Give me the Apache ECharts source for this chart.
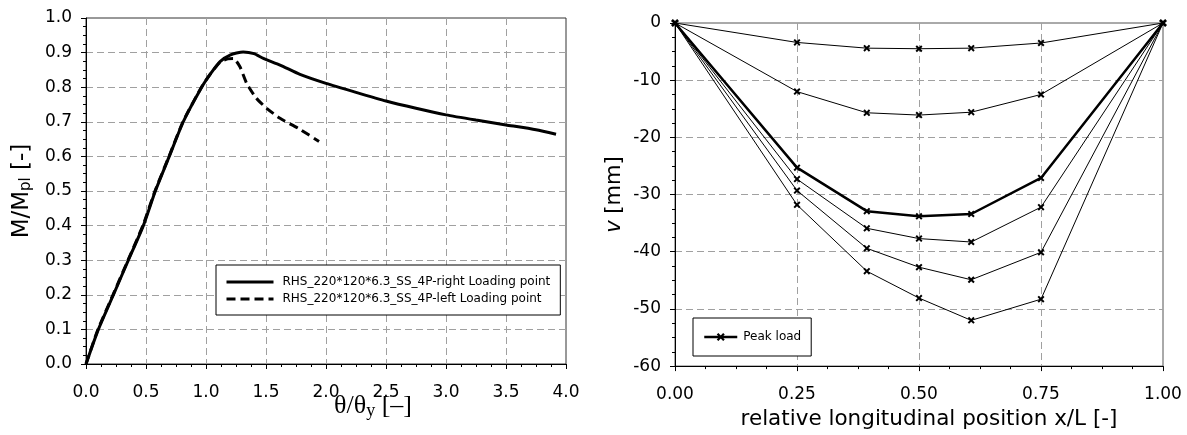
<!DOCTYPE html>
<html>
<head>
<meta charset="utf-8">
<script src="https://cdn.jsdelivr.net/npm/echarts@6/dist/echarts.min.js"></script>
<style>
html,body{margin:0;padding:0;background:#fff;}
#c{width:1187px;height:435px;}
</style>
</head>
<body>
<div id="c"></div>
<script>
// ---- Left chart data (theta/theta_y vs M/Mpl) ----
const rightLoadName = 'RHS_220*120*6.3_SS_4P-right Loading point';
const leftLoadName = 'RHS_220*120*6.3_SS_4P-left Loading point';
const rightLoadX = [0, 0.103, 0.228, 0.353, 0.478, 0.578, 0.694, 0.81, 0.964, 1.04, 1.117, 1.2, 1.31, 1.4, 1.478, 1.617, 1.783, 2.0, 2.25, 2.5, 2.75, 3.0, 3.25, 3.5, 3.75, 3.917];
const rightLoadY = [0, 0.1, 0.2, 0.3, 0.4, 0.5, 0.6, 0.7, 0.8, 0.84, 0.874, 0.893, 0.902, 0.897, 0.883, 0.864, 0.837, 0.811, 0.785, 0.760, 0.739, 0.720, 0.705, 0.691, 0.677, 0.664];
const leftLoadX = [0, 0.1, 0.225, 0.35, 0.474, 0.575, 0.692, 0.808, 0.962, 1.04, 1.117, 1.18, 1.228, 1.283, 1.339, 1.42, 1.506, 1.617, 1.77, 1.942];
const leftLoadY = [0, 0.1, 0.2, 0.3, 0.4, 0.5, 0.6, 0.7, 0.8, 0.84, 0.872, 0.882, 0.883, 0.859, 0.811, 0.768, 0.739, 0.710, 0.681, 0.643];

// ---- Right chart data (deflection v along x/L) ----
const positions = [0, 0.25, 0.393, 0.5, 0.607, 0.75, 1.0];
const defl1 = [0, -3.4, -4.4, -4.5, -4.4, -3.5, 0];
const defl2 = [0, -12.0, -15.7, -16.1, -15.6, -12.5, 0];
const deflPeak = [0, -25.3, -32.9, -33.8, -33.4, -27.1, 0];
const defl4 = [0, -27.3, -35.9, -37.7, -38.3, -32.2, 0];
const defl5 = [0, -29.3, -39.4, -42.7, -44.9, -40.1, 0];
const defl6 = [0, -31.8, -43.4, -48.1, -52.0, -48.3, 0];

const leftXTicks = [0, 0.5, 1.0, 1.5, 2.0, 2.5, 3.0, 3.5, 4.0];
const rightXTicks = [0, 0.25, 0.5, 0.75, 1.0];

function pairs(xs, ys) { return xs.map((x, i) => [x, ys[i]]); }

const FONT = 'DejaVu Sans';
const gridLine = { show: true, showMinLine: false, showMaxLine: false, lineStyle: { color: '#a0a0a0', type: [7, 4], width: 1 } };
const xMark = 'path://M0,2 L2,0 L5,3 L8,0 L10,2 L7,5 L10,8 L8,10 L5,7 L2,10 L0,8 L3,5 Z';

function axisCommon(extra) {
  return Object.assign({
    axisLine: { show: true, onZero: false, lineStyle: { color: '#000', width: 1 } },
    axisTick: { show: true, length: 5, lineStyle: { color: '#000' } },
    minorTick: { show: true, splitNumber: 4, length: 3, lineStyle: { color: '#000' } },
    splitLine: gridLine,
    axisLabel: { fontFamily: FONT, fontSize: 17, color: '#000' }
  }, extra);
}

function thinSeries(name, data) {
  return {
    type: 'line', name: name, xAxisIndex: 1, yAxisIndex: 1,
    data: pairs(positions, data),
    symbol: xMark, symbolSize: 7, showSymbol: true,
    lineStyle: { color: '#000', width: 1 },
    itemStyle: { color: '#000' },
    z: 3
  };
}

const chart = echarts.init(document.getElementById('c'), null, { renderer: 'canvas' });
chart.setOption({
  backgroundColor: '#fff',
  animation: false,
  grid: [
    { left: 86, top: 18, width: 480, height: 346, show: true, borderColor: '#333', borderWidth: 1, backgroundColor: 'transparent' },
    { left: 675, top: 23, width: 488, height: 345, show: true, borderColor: '#555', borderWidth: 1, backgroundColor: 'transparent' }
  ],
  xAxis: [
    axisCommon({
      type: 'value', gridIndex: 0, min: 0, max: 4, interval: 0.5,
      axisLabel: { fontFamily: FONT, fontSize: 17, color: '#000', margin: 20, formatter: v => v.toFixed(1) }
    }),
    axisCommon({
      type: 'value', gridIndex: 1, min: 0, max: 1, interval: 0.25,
      axisLabel: { fontFamily: FONT, fontSize: 17, color: '#000', margin: 20, formatter: v => v.toFixed(2) },
      name: 'relative longitudinal position x/L [-]', nameLocation: 'middle', nameGap: 40,
      nameTextStyle: { fontFamily: FONT, fontSize: 21.5, color: '#000', padding: [0, 0, 0, 20] }
    })
  ],
  yAxis: [
    axisCommon({
      type: 'value', gridIndex: 0, min: 0, max: 1, interval: 0.1,
      axisLabel: { fontFamily: FONT, fontSize: 17, color: '#000', margin: 14, formatter: v => v.toFixed(1) },
      name: '{a|M/M}{s|pl}{a| [-]}', nameLocation: 'middle', nameGap: 52, nameRotate: 90,
      nameTextStyle: {
        rich: {
          a: { fontFamily: FONT, fontSize: 23, color: '#000' },
          s: { fontFamily: FONT, fontSize: 15, color: '#000', verticalAlign: 'bottom', padding: [9, 0, 0, 0] }
        }
      }
    }),
    axisCommon({
      type: 'value', gridIndex: 1, min: -60, max: 0, interval: 10,
      axisLabel: { fontFamily: FONT, fontSize: 17, color: '#000', margin: 14 },
      name: '{i|v}{a| [mm]}', nameLocation: 'middle', nameGap: 50, nameRotate: 90,
      nameTextStyle: {
        rich: {
          i: { fontFamily: FONT, fontSize: 21, fontStyle: 'italic', color: '#000' },
          a: { fontFamily: FONT, fontSize: 21, color: '#000' }
        }
      }
    })
  ],
  legend: [
    {
      data: [rightLoadName, leftLoadName],
      orient: 'vertical', left: 216, top: 265,
      padding: [11, 10, 10, 9],
      borderColor: '#000', borderWidth: 1, backgroundColor: '#fff',
      itemWidth: 47, itemHeight: 14, itemGap: 5,
      itemStyle: { opacity: 0 },
      lineStyle: { width: 3 },
      textStyle: { fontFamily: FONT, fontSize: 12, color: '#000', padding: [0, 0, 0, 4] }
    },
    {
      data: ['Peak load'],
      orient: 'vertical', left: 693, top: 318,
      padding: [13, 10, 13, 10],
      borderColor: '#000', borderWidth: 1, backgroundColor: '#fff',
      itemWidth: 33, itemHeight: 10, itemGap: 5,
      lineStyle: { width: 2.5 },
      textStyle: { fontFamily: FONT, fontSize: 12, color: '#000', padding: [0, 0, 0, 1] }
    }
  ],
  graphic: [
    {
      type: 'text', left: 334, top: 393,
      style: {
        text: '{a|θ/θ}{s|y}{a| [–]}',
        rich: {
          a: { fontFamily: 'Liberation Serif', fontSize: 26, fill: '#000' },
          s: { fontFamily: 'Liberation Serif', fontSize: 18, fill: '#000', padding: [10, 0, 0, 0] }
        }
      }
    }
  ],
  series: [
    {
      type: 'line', name: rightLoadName, xAxisIndex: 0, yAxisIndex: 0,
      data: pairs(rightLoadX, rightLoadY), smooth: 0.2, symbol: 'none',
      lineStyle: { color: '#000', width: 3 }, itemStyle: { color: '#000' }, z: 3
    },
    {
      type: 'line', name: leftLoadName, xAxisIndex: 0, yAxisIndex: 0,
      data: pairs(leftLoadX, leftLoadY), smooth: 0.2, symbol: 'none',
      lineStyle: { color: '#000', width: 3, type: [9, 5] }, itemStyle: { color: '#000' }, z: 4
    },
    thinSeries('Step 1', defl1),
    thinSeries('Step 2', defl2),
    {
      type: 'line', name: 'Peak load', xAxisIndex: 1, yAxisIndex: 1,
      data: pairs(positions, deflPeak),
      symbol: xMark, symbolSize: 7, showSymbol: true,
      lineStyle: { color: '#000', width: 2.5 }, itemStyle: { color: '#000' }, z: 4
    },
    thinSeries('Step 4', defl4),
    thinSeries('Step 5', defl5),
    thinSeries('Step 6', defl6)
  ]
});
</script>
</body>
</html>
